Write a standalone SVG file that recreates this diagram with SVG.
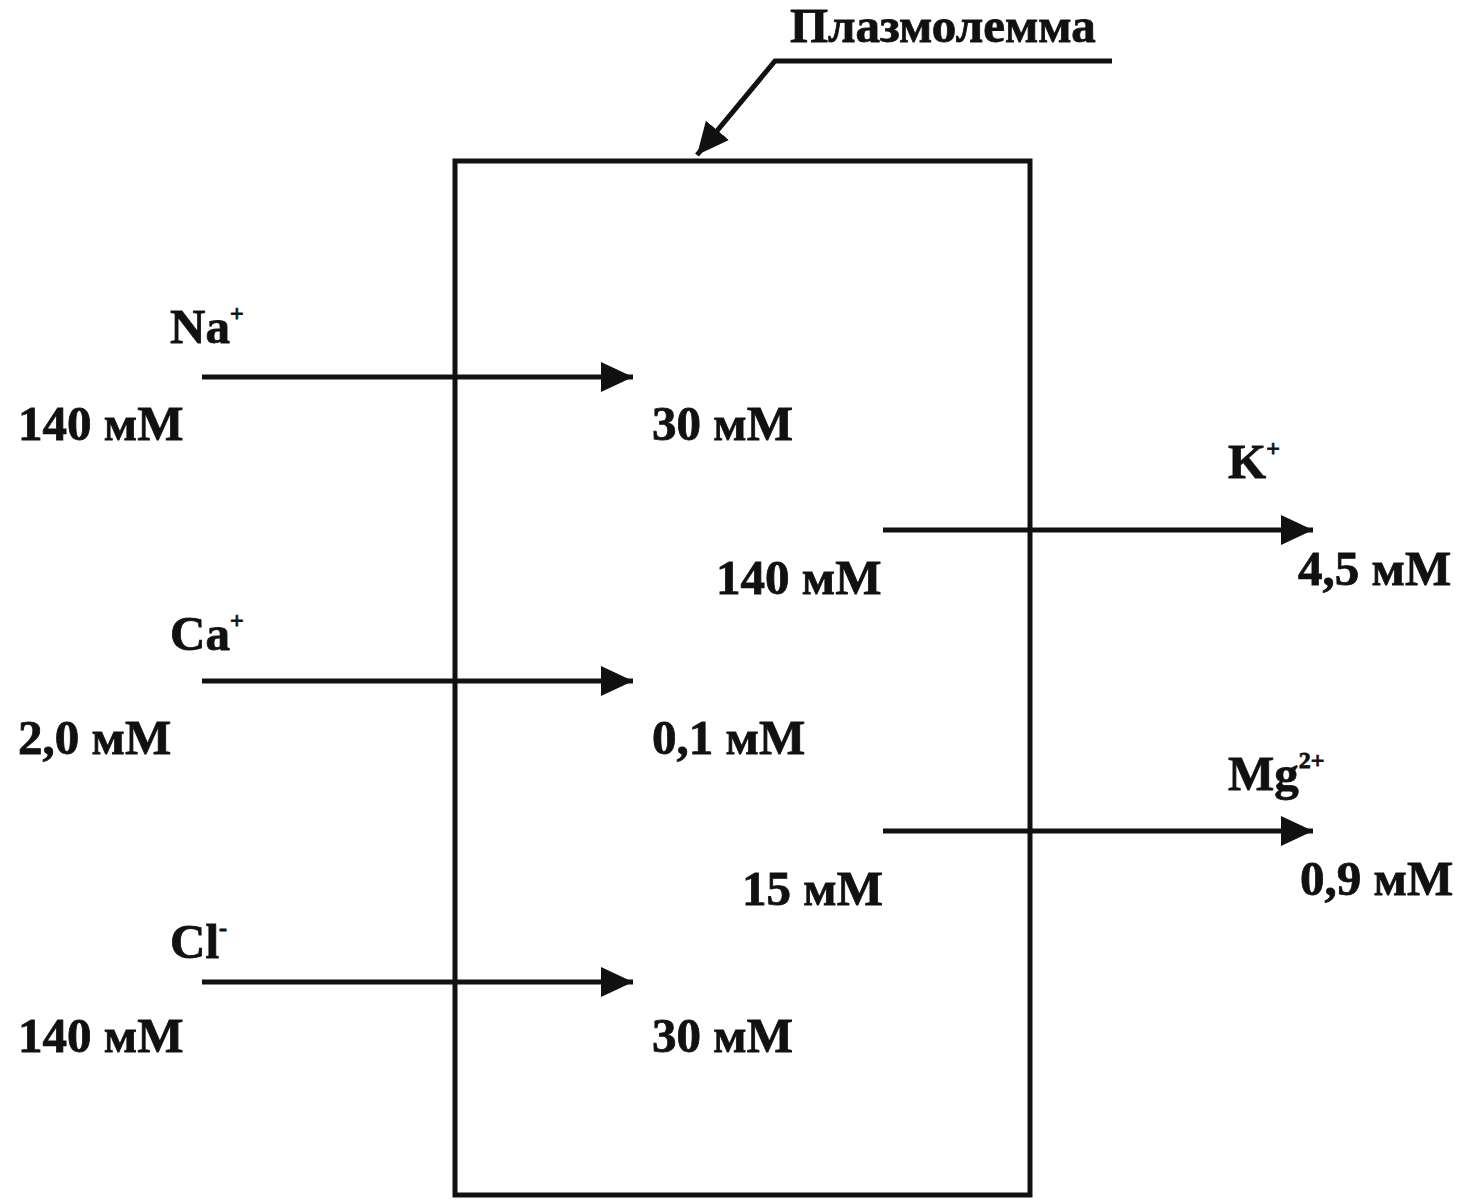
<svg xmlns="http://www.w3.org/2000/svg" width="1474" height="1203" viewBox="0 0 1474 1203">
<style>
text{font-family:"Liberation Serif","Times New Roman",serif;font-weight:bold;fill:#111;stroke:#111;stroke-width:0.8;font-size:49px}
.sup{font-size:24px}
.ln{stroke:#111;stroke-width:5;fill:none}
</style>
<defs>
<marker id="ah" markerUnits="userSpaceOnUse" markerWidth="34" markerHeight="34" refX="32" refY="17" orient="auto">
<path d="M0,2 L32,17 L0,32 Z" fill="#111"/>
</marker>
</defs>
<rect width="1474" height="1203" fill="#fff"/>
<g id="membrane">
<rect class="ln" x="455" y="161" width="575" height="1034"/>
</g>
<g id="label-plasmolemma">
<text x="790" y="42" font-size="48">Плазмолемма</text>
</g>
<g id="connectors">
<path class="ln" d="M1112,61 L775,61 L697,155" marker-end="url(#ah)"/>
<line class="ln" x1="202" y1="377" x2="633" y2="377" marker-end="url(#ah)"/>
<line class="ln" x1="202" y1="681" x2="633" y2="681" marker-end="url(#ah)"/>
<line class="ln" x1="202" y1="982" x2="633" y2="982" marker-end="url(#ah)"/>
<line class="ln" x1="883" y1="530" x2="1313" y2="530" marker-end="url(#ah)"/>
<line class="ln" x1="883" y1="831" x2="1313" y2="831" marker-end="url(#ah)"/>
</g>
<g id="na">
<text x="170" y="343">Na<tspan class="sup" dy="-22">+</tspan></text>
<text x="18" y="440">140 мМ</text>
<text x="652" y="440">30 мМ</text>
</g>
<g id="ca">
<text x="170" y="650">Ca<tspan class="sup" dy="-22">+</tspan></text>
<text x="18" y="754">2,0 мМ</text>
<text x="652" y="754">0,1 мМ</text>
</g>
<g id="cl">
<text x="170" y="958">Cl<tspan class="sup" dy="-22">-</tspan></text>
<text x="18" y="1052">140 мМ</text>
<text x="652" y="1052">30 мМ</text>
</g>
<g id="k">
<text x="1228" y="478">K<tspan class="sup" dy="-22">+</tspan></text>
<text x="716" y="594">140 мМ</text>
<text x="1298" y="585">4,5 мМ</text>
</g>
<g id="mg">
<text x="1228" y="790">Mg<tspan class="sup" dy="-22">2+</tspan></text>
<text x="742" y="905">15 мМ</text>
<text x="1300" y="895">0,9 мМ</text>
</g>
</svg>
